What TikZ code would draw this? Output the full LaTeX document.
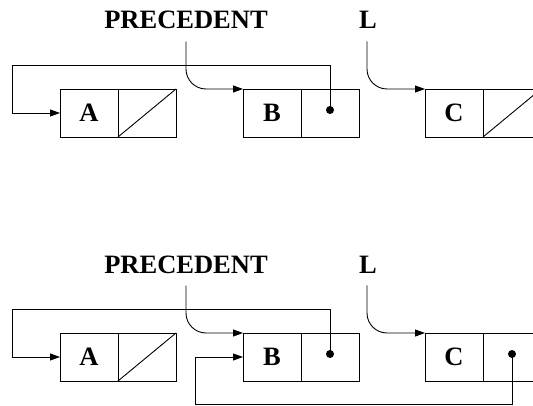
\documentclass[tikz,border=0pt]{standalone}
\usepackage{fontspec}
\setmainfont{Liberation Serif}
\usetikzlibrary{arrows.meta, positioning}

\begin{document}
\begin{tikzpicture}[
    x=1pt, y=-1pt,
    line width=0.9pt,
    node distance=0pt,
    font=\fontsize{26.5}{30}\selectfont\bfseries,
    cell/.style={draw, minimum width=58pt, minimum height=48pt, inner sep=0pt, outer sep=0pt},
    lbl/.style={inner sep=0pt, anchor=base},
    arr/.style={-{Triangle[length=10pt, width=7pt]}},
    ptr/.style={arr, rounded corners=20pt},
    dot/.style={circle, fill, inner sep=0pt, minimum size=8pt}
]
\useasboundingbox (0,0) rectangle (533,406);
\clip (0,0) rectangle (533,406);

% Top list
\node[lbl] (prec1) at (186,29) {PRECEDENT};
\node[lbl] (l1) at (368,29) {L};
\node[cell] (A1) at (89,113) {A};
\node[cell, right=of A1] (A1p) {};
\node[cell] (B1) at (272,113) {B};
\node[cell, right=of B1] (B1p) {};
\node[cell] (C1) at (454,113) {C};
\node[cell, right=of C1] (C1p) {};
\draw (A1p.south west) -- (A1p.north east);
\draw (C1p.south west) -- (C1p.north east);
\node[dot] (d1) at ([yshift=3pt]B1p.center) {};
\coordinate (loop1) at (12,65);

\draw[ptr] ([yshift=-12pt]prec1.south) |- (B1.north west);
\draw[ptr] ([xshift=-1pt,yshift=-12pt]l1.south) |- (C1.north west);
\draw[arr] (d1.center) |- (loop1) |- (A1.west);

% Bottom list
\node[lbl] (prec2) at (186,273) {PRECEDENT};
\node[lbl] (l2) at (368,273) {L};
\node[cell] (A2) at (89,357) {A};
\node[cell, right=of A2] (A2p) {};
\node[cell] (B2) at (272,357) {B};
\node[cell, right=of B2] (B2p) {};
\node[cell] (C2) at (454,357) {C};
\node[cell, right=of C2] (C2p) {};
\draw (A2p.south west) -- (A2p.north east);
\node[dot] (d2) at ([yshift=3pt]B2p.center) {};
\node[dot] (d3) at ([yshift=3pt]C2p.center) {};
\coordinate (loop2) at (12,309);
\coordinate (loop3) at (195,404);

\draw[ptr] ([yshift=-12pt]prec2.south) |- (B2.north west);
\draw[ptr] ([xshift=-1pt,yshift=-12pt]l2.south) |- (C2.north west);
\draw[arr] (d2.center) |- (loop2) |- (A2.west);
\draw[arr] (d3.center) |- (loop3) |- (B2.west);

\end{tikzpicture}
\end{document}
